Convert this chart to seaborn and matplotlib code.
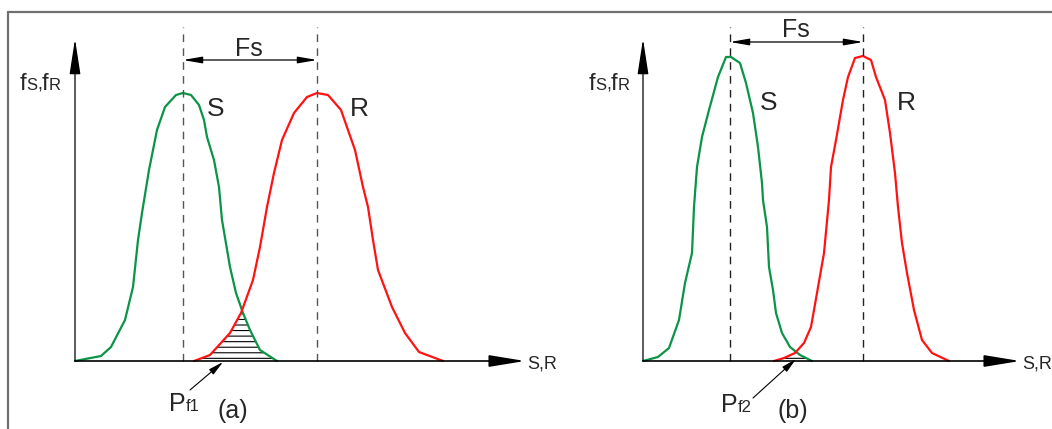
import numpy as np
import matplotlib.pyplot as plt
import seaborn as sns
from matplotlib.patches import Polygon
from matplotlib.lines import Line2D

sns.set_style("white")
plt.rcParams["font.family"] = ["Liberation Sans", "DejaVu Sans"]
plt.rcParams["hatch.linewidth"] = 0.8

GREEN = "#0b9446"
RED = "#ff1212"

# --- panel (a): wide curves, large overlap (units: arbitrary, origin at axes corner)
s_a_x = [0, 26, 36, 50, 58, 63, 67, 74, 82, 90, 101, 108, 116, 124, 129, 132,
         139, 144, 147, 155, 161, 168, 175, 185, 202]
s_a_y = [0, 5, 14, 41, 74, 121, 148, 191, 231, 254, 266, 268, 266, 256, 241, 224,
         201, 174, 141, 94, 68, 48, 31, 11, 0]
r_a_x = [119, 135, 155, 166, 178, 185, 192, 199, 207, 219, 232, 242, 253, 266, 280,
         288, 293, 298, 303, 317, 330, 344, 368]
r_a_y = [0, 6, 28, 48, 81, 114, 154, 188, 221, 248, 264, 268, 266, 251, 211,
         174, 154, 121, 91, 54, 28, 9, 0]
mean_a = [108, 242]

# --- panel (b): narrow curves, small overlap
s_b_x = [0, 15, 26, 36, 42, 49, 51, 54, 59, 66, 75, 83, 88, 97, 103, 110, 115,
         119, 120, 124, 126, 130, 133, 139, 147, 157, 169]
s_b_y = [0, 4, 13, 41, 78, 108, 154, 194, 224, 251, 284, 304, 304, 298, 278, 248,
         214, 178, 161, 134, 94, 71, 48, 28, 14, 6, 0]
r_b_x = [131, 141, 152, 161, 168, 174, 181, 186, 188, 193, 200, 205, 212, 220, 228,
         233, 242, 247, 252, 255, 259, 264, 271, 279, 289, 306]
r_b_y = [0, 3, 8, 18, 34, 68, 108, 161, 194, 221, 261, 284, 303, 305, 301, 284,
         261, 228, 188, 154, 118, 88, 51, 21, 8, 0]
mean_b = [87, 220]

fig = plt.figure(figsize=(10.52, 4.29), dpi=100)

# outer frame (top and left edges visible)
fig.add_artist(Line2D([0.008, 0.008], [0, 0.972], transform=fig.transFigure,
                      color="#707070", lw=1.6))
fig.add_artist(Line2D([0.008, 1.0], [0.972, 0.972], transform=fig.transFigure,
                      color="#707070", lw=1.6))


def arrow(ax, start, end, style, lw=1.0):
    ax.annotate("", xy=end, xytext=start, annotation_clip=False,
                arrowprops=dict(arrowstyle=style, color="black", lw=lw,
                                shrinkA=0, shrinkB=0, mutation_scale=10))


def draw_panel(ax, sx, sy, rx, ry, means, cfg):
    ax.set_xlim(*cfg["xlim"])
    ax.set_ylim(-68, 361)
    ax.axis("off")

    sns.lineplot(x=sx, y=sy, ax=ax, color=GREEN, lw=1.6, estimator=None, sort=False,
                 solid_joinstyle="round")
    sns.lineplot(x=rx, y=ry, ax=ax, color=RED, lw=1.6, estimator=None, sort=False,
                 solid_joinstyle="round")

    # failure region: under red up to crossing, then under green
    cross = cfg["cross"]
    left = [(x, y) for x, y in zip(rx, ry) if x <= cross]
    right = [(x, y) for x, y in zip(sx, sy) if x > cross]
    poly = Polygon(left + right, closed=True, facecolor="none",
                   edgecolor="black", lw=0, hatch="---")
    ax.add_patch(poly)

    # mean lines
    for m in means:
        ax.plot([m, m], [0, 334], color=cfg["dash_color"], lw=1.0,
                linestyle=(0, (5.5, 4.5)))

    # axes arrows
    arrow(ax, (0, 0), (cfg["xtip"], 0), "-|>,head_length=2.2,head_width=0.36", lw=1.2)
    arrow(ax, (0, 0), (0, 322), "-|>,head_length=2.2,head_width=0.34", lw=0.9)
    ax.text(cfg["xtip"] + 2, -3, "S,R", fontsize=13, ha="left", va="center")

    # y label fS,fR
    x0 = cfg["ylab_x"]
    yb = 271
    ax.text(x0, yb, "f", fontsize=17, va="baseline")
    ax.text(x0 + 6.5, yb, "S", fontsize=12, va="baseline")
    ax.text(x0 + 17.5, yb, ",", fontsize=13, va="baseline")
    ax.text(x0 + 22, yb, "f", fontsize=17, va="baseline")
    ax.text(x0 + 28.5, yb, "R", fontsize=12, va="baseline")

    # Fs distance
    arrow(ax, (means[0], cfg["fs_y"]), (means[1], cfg["fs_y"]),
          "<|-|>,head_length=1.15,head_width=0.2", lw=0.9)
    ax.text(cfg["fs_text"][0], cfg["fs_text"][1], "Fs", fontsize=18,
            ha="center", va="center")

    ax.text(cfg["s_lab"][0], cfg["s_lab"][1], "S", fontsize=19, ha="center", va="center")
    ax.text(cfg["r_lab"][0], cfg["r_lab"][1], "R", fontsize=19, ha="center", va="center")

    # Pf label and pointer
    px, pyb = cfg["p_lab"]
    ax.text(px, pyb, "P", fontsize=18, va="baseline")
    ax.text(px + 17, pyb, cfg["p_sub"], fontsize=12, va="baseline")
    arrow(ax, cfg["p_tail"], cfg["p_tip"], "-|>,head_length=0.9,head_width=0.2", lw=0.8)

    ax.text(cfg["tag"][0], cfg["tag"][1], cfg["tag_text"], fontsize=18,
            ha="center", va="baseline")


ax_a = fig.add_axes([0, 0, 0.5, 1])
draw_panel(ax_a, s_a_x, s_a_y, r_a_x, r_a_y, mean_a, dict(
    xlim=(-75, 451), cross=166, dash_color="#555555", xtip=450, ylab_x=-55,
    fs_y=301, fs_text=(174, 312), s_lab=(141, 252), r_lab=(284, 252),
    p_lab=(94, -50), p_sub="f1", p_tail=(115, -29), p_tip=(148, -1),
    tag=(158, -57), tag_text="(a)"))

ax_b = fig.add_axes([0.5, 0, 0.5, 1])
draw_panel(ax_b, s_b_x, s_b_y, r_b_x, r_b_y, mean_b, dict(
    xlim=(-117, 409), cross=153, dash_color="#222222", xtip=377, ylab_x=-54,
    fs_y=319, fs_text=(153, 331), s_lab=(126, 258), r_lab=(263, 258),
    p_lab=(78, -51), p_sub="f2", p_tail=(110, -37), p_tip=(153, 2),
    tag=(150, -57), tag_text="(b)"))

fig.savefig("out.png", dpi=100)
